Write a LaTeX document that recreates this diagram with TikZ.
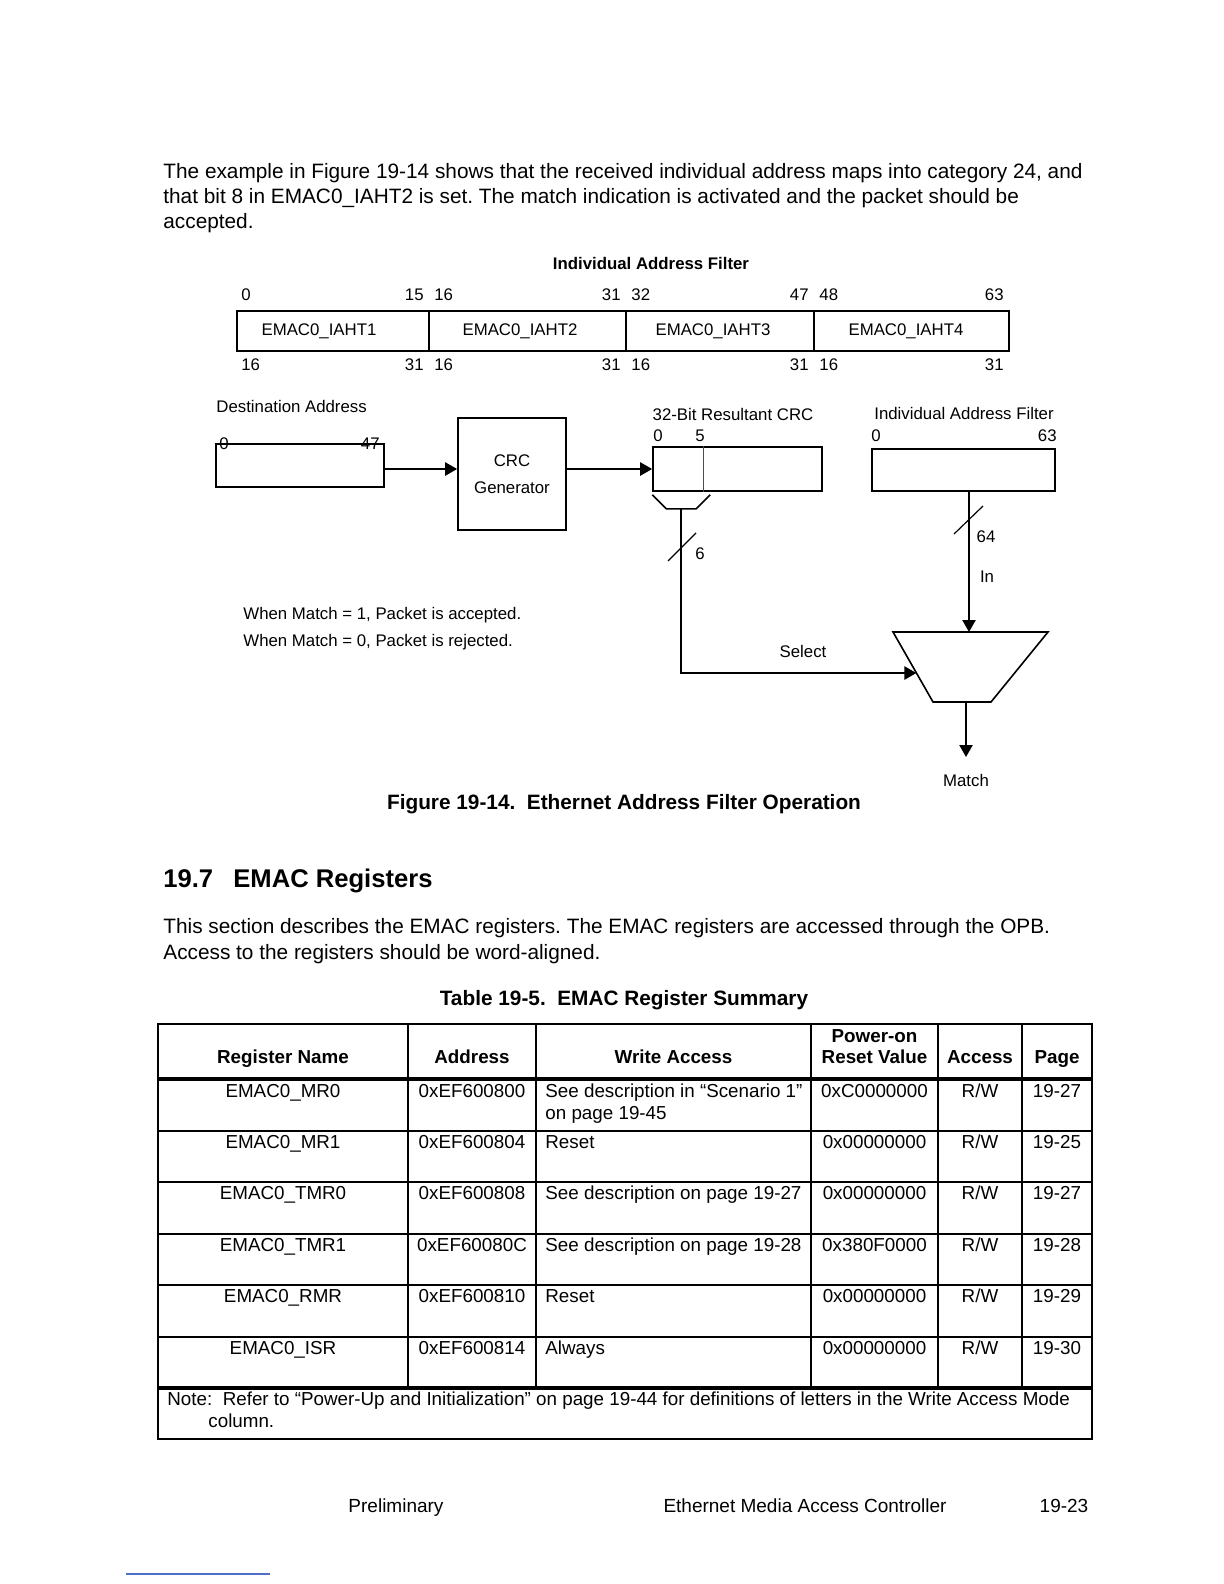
\documentclass[tikz,border=0pt]{standalone}
\usepackage{fontspec}
\setmainfont{Liberation Sans}
\usetikzlibrary{arrows.meta,calc,positioning}
\definecolor{scanblue}{RGB}{80,110,200}
\tikzset{
  regbox/.style={draw,line width=0.8pt,inner sep=0pt},
  sig/.style={line width=1.1pt,-{Triangle[length=6pt,width=6.5pt]}},
  bus/.style={line width=1.1pt},
  fig/.style={font=\fontsize{8.4}{10}\selectfont,inner sep=0pt},
  figb/.style={font=\bfseries\fontsize{8.4}{10}\selectfont,inner sep=0pt},
  body/.style={font=\fontsize{10.4}{12.5}\selectfont,inner sep=0pt,anchor=base west},
  foot/.style={font=\fontsize{9.5}{12}\selectfont,inner sep=0pt,anchor=base},
  capt/.style={font=\bfseries\fontsize{10.4}{12}\selectfont,inner sep=0pt,anchor=base},
  cell/.style={font=\fontsize{9.4}{11}\selectfont,inner sep=0pt,anchor=base},
  hcell/.style={font=\bfseries\fontsize{9.4}{11}\selectfont,inner sep=0pt,anchor=base},
}
\begin{document}
\frenchspacing
\begin{tikzpicture}[x=0.5pt,y=-0.5pt]
\useasboundingbox (0,0) rectangle (1224,1584);
% opening paragraph
\node[body] (p1) at (163,178) {The example in Figure 19-14 shows that the received individual address maps into category 24, and};
\node[body] (p2) at (163,203) {that bit 8 in EMAC0\_IAHT2 is set. The match indication is activated and the packet should be};
\node[body] (p3) at (163,228) {accepted.};
% individual address filter registers
\node[figb,anchor=base] (iaftitle) at (651,269) {Individual Address Filter};
\foreach \n/\a/\b/\c in {1/237/429/319,2/429/626/520,3/626/814/713,4/814/1009/906} {
  \draw[line width=0.8pt] (\a,311) rectangle (\b,351);
  \node[fig,anchor=base] (iaht\n) at (\c,335) {EMAC0\_IAHT\n};
}
\node[fig,anchor=base west] (tb0) at (241,300) {0};
\node[fig,anchor=base east] (tb63) at (1004,300) {63};
\foreach \d/\l/\r in {429/15/16,626/31/32,814/47/48} {
  \node[fig,anchor=base east] (tl\l) at ({\d-5},300) {\l};
  \node[fig,anchor=base west] (tr\r) at ({\d+5},300) {\r};
}
\node[fig,anchor=base west] (bb0) at (241,370) {16};
\node[fig,anchor=base east] (bb4) at (1004,370) {31};
\foreach \d [count=\i] in {429,626,814} {
  \node[fig,anchor=base east] (bl\i) at ({\d-5},370) {31};
  \node[fig,anchor=base west] (br\i) at ({\d+5},370) {16};
}
% destination address and CRC generator
\node[fig,anchor=base west] (dsttitle) at (216,412) {Destination Address};
\node[regbox,minimum width=84pt,minimum height=21.5pt] (dst) at (300,465.5) {};
\node[fig,anchor=base west] (dst0) at (219,449) {0};
\node[fig,anchor=base east] (dst47) at (380,449) {47};
\node[regbox,minimum width=54pt,minimum height=56pt,align=center,font=\fontsize{8.4}{13.5}\selectfont] (crc) at (512,474) {CRC\\Generator};
\coordinate (dstout) at (384,469);
\draw[sig] (dstout) -- (dstout -| crc.west);
% resultant CRC
\node[fig,anchor=base] (restitle) at (733,420) {32-Bit Resultant CRC};
\node[regbox,minimum width=84.5pt,minimum height=22pt] (res) at (737.5,469) {};
\node[fig,anchor=base] (res0) at (658,441) {0};
\node[fig,anchor=base] (res5) at (700,441) {5};
\draw[line width=0.4pt,black!70] (res.north west) ++(51,0) coordinate (rdiv) -- (rdiv |- res.south);
\draw[sig] (res.west -| crc.east) -- (res.west);
\draw[line width=0.8pt] ([shift={(0,3)}]res.south west) -- ++(14,14) coordinate (brk0) -- ++(30,0) coordinate (brk1) -- ++(14,-14);
\coordinate (brk) at ($(brk0)!0.5!(brk1)$);
% individual address filter (64 bit)
\node[fig,anchor=base] (iaf2title) at (964,419) {Individual Address Filter};
\node[regbox,minimum width=91.5pt,minimum height=21pt] (iaf) at (963.5,470) {};
\node[fig,anchor=base] (iaf0) at (876,441) {0};
\node[fig,anchor=base east] (iaf63) at (1057,441) {63};
% multiplexer
\coordinate (muxtl) at (893,632);
\coordinate (muxtr) at (1048,632);
\coordinate (muxbr) at (991,702);
\coordinate (muxbl) at (933,702);
\draw[line width=0.8pt] (muxtl) -- (muxtr) -- (muxbr) -- (muxbl) -- cycle;
\coordinate (sel) at ($(muxtl)!0.586!(muxbl)$);
\coordinate (muxin) at (969,632);
\coordinate (muxout) at (966,702);
\coordinate (match) at (966,757);
\draw[sig] (brk) |- (sel);
\draw[sig] (muxin |- iaf.south) -- (muxin);
\draw[sig] (muxout) -- (match);
% bus widths
\coordinate (w6) at (682,547);
\draw[line width=0.6pt] ([shift={(-14,14)}]w6) -- ([shift={(14,-14)}]w6);
\node[fig,anchor=base] (lab6) at (700,559) {6};
\coordinate (w64) at (968.5,520);
\draw[line width=0.6pt] ([shift={(-14.5,14)}]w64) -- ([shift={(14.5,-14)}]w64);
\node[fig,anchor=base] (lab64) at (986,542) {64};
\node[fig,anchor=base] (labin) at (987,582) {In};
\node[fig,anchor=base] (labsel) at (803,657) {Select};
\node[fig,anchor=base] (labmatch) at (966,786) {Match};
\node[fig,anchor=base west] (acc) at (243,619) {When Match = 1, Packet is accepted.};
\node[fig,anchor=base west] (rej) at (243,646) {When Match = 0, Packet is rejected.};
\node[capt] (figcap) at (624,809) {Figure 19-14.\ \ Ethernet Address Filter Operation};
% section
\node[font=\bfseries\fontsize{12.8}{15}\selectfont,inner sep=0pt,anchor=base west] (secnum) at (163,887) {19.7};
\node[font=\bfseries\fontsize{12.8}{15}\selectfont,inner sep=0pt,anchor=base west] (sectitle) at (233,887) {EMAC Registers};
\node[body] (q1) at (163,933) {This section describes the EMAC registers. The EMAC registers are accessed through the OPB.};
\node[body] (q2) at (163,959) {Access to the registers should be word-aligned.};
\node[capt] (tabcap) at (624,1005) {Table 19-5.\ \ EMAC Register Summary};
% register summary table
\draw[line width=0.7pt] (158,1024) rectangle (1092,1439);
\foreach \y in {1131,1182,1234,1285,1337} \draw[line width=0.8pt] (158,\y) -- (1092,\y);
\foreach \y in {1079,1388} \draw[line width=1.8pt] (158,\y) -- (1092,\y);
\foreach \x in {408,536,811,938,1022} \draw[line width=0.7pt] (\x,1024) -- (\x,1388);
\node[hcell] (hname) at (283,1063) {Register Name};
\node[hcell] (haddr) at (472,1063) {Address};
\node[hcell] (hwa) at (673.5,1063) {Write Access};
\node[hcell] (hpor) at (874.5,1042) {Power-on};
\node[hcell] (hrst) at (874.5,1063) {Reset Value};
\node[hcell] (hacc) at (980,1063) {Access};
\node[hcell] (hpg) at (1057,1063) {Page};
\foreach \y/\rn/\ad/\wa/\rv/\pg [count=\i] in {
  1097/EMAC0\_MR0/0xEF600800/{See description in “Scenario 1”}/0xC0000000/19-27,
  1148/EMAC0\_MR1/0xEF600804/Reset/0x00000000/19-25,
  1199/EMAC0\_TMR0/0xEF600808/{See description on page 19-27}/0x00000000/19-27,
  1251/EMAC0\_TMR1/0xEF60080C/{See description on page 19-28}/0x380F0000/19-28,
  1302/EMAC0\_RMR/0xEF600810/Reset/0x00000000/19-29,
  1354/EMAC0\_ISR/0xEF600814/Always/0x00000000/19-30} {
  \node[cell] (rn\i) at (283,\y) {\rn};
  \node[cell] (ad\i) at (472,\y) {\ad};
  \node[cell,anchor=base west] (wa\i) at (545,\y) {\wa};
  \node[cell] (rv\i) at (874.5,\y) {\rv};
  \node[cell] (ac\i) at (980,\y) {R/W};
  \node[cell] (pg\i) at (1057,\y) {\pg};
}
\node[cell,anchor=base west] (wa1b) at (545,1119) {on page 19-45};
\node[cell,anchor=base west] (note1) at (167,1405) {Note:\ \ Refer to “Power-Up and Initialization” on page 19-44 for definitions of letters in the Write Access Mode};
\node[cell,anchor=base west] (note2) at (208,1427) {column.};
% footer
\node[foot] (fprelim) at (396,1512) {Preliminary};
\node[foot] (fchap) at (805,1512) {Ethernet Media Access Controller};
\node[foot] (fpage) at (1064,1512) {19-23};
\draw[scanblue,line width=0.6pt] (126,1574) -- (270,1574);
\end{tikzpicture}
\end{document}
